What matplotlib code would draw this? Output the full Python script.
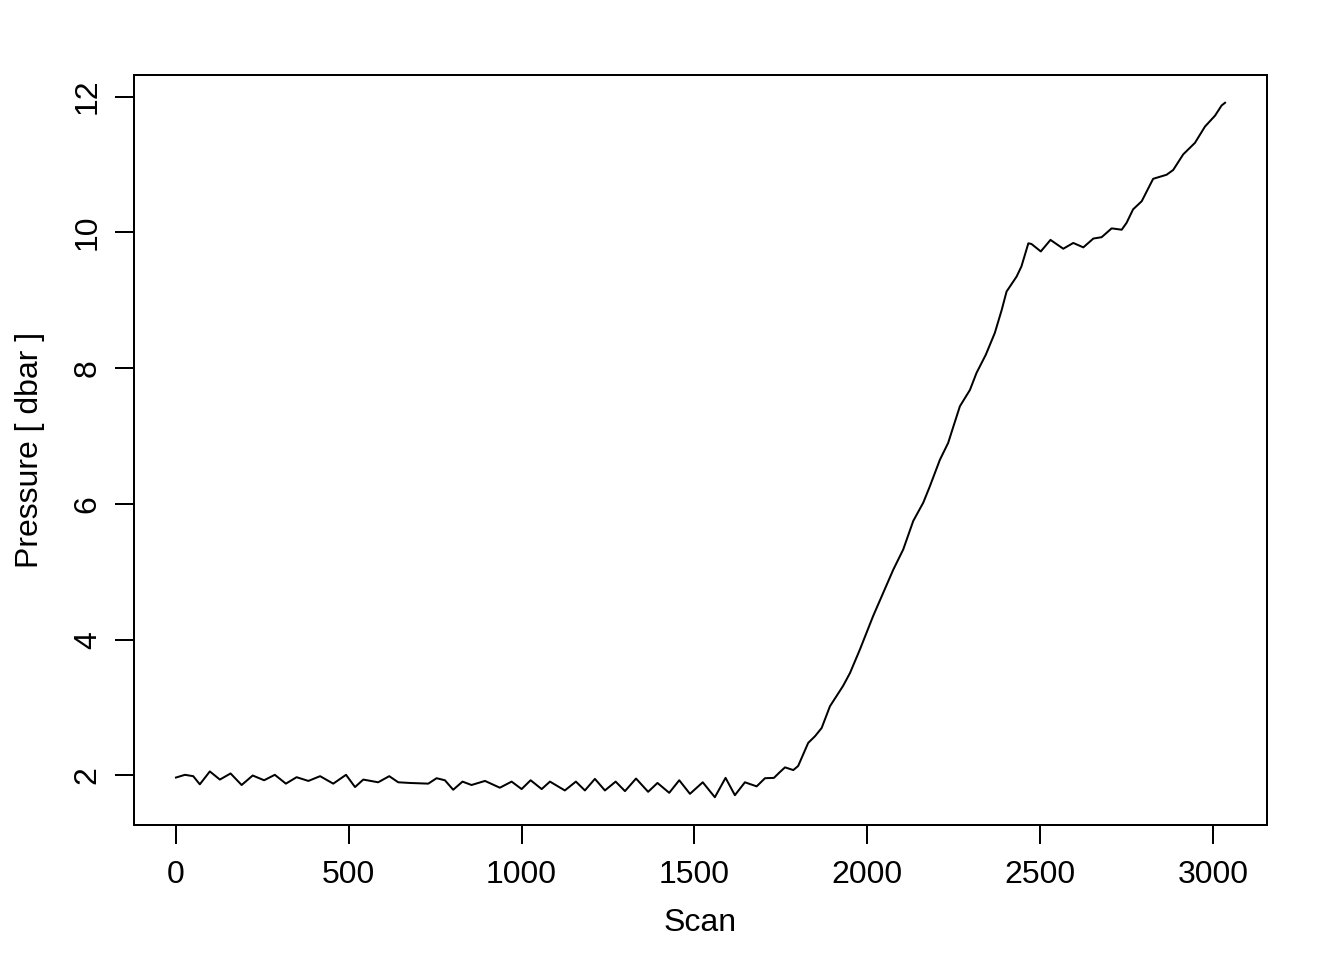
import matplotlib
matplotlib.use('Agg')
import matplotlib.pyplot as plt

plt.rcParams['font.family'] = ['Liberation Sans', 'DejaVu Sans']
plt.rcParams['font.size'] = 12

###----------------------------------------------------------------------------
# values
scan = [0, 26, 50, 69, 98, 127, 158, 190, 222, 255, 286, 318, 349, 383, 417,
        455, 492, 518, 542, 585, 617, 643, 677, 730, 754, 778, 802, 829, 855,
        894, 937, 971, 1000, 1026, 1058, 1082, 1125, 1157, 1183, 1212, 1241,
        1272, 1299, 1331, 1366, 1393, 1427, 1456, 1487, 1524, 1559, 1590,
        1617, 1646, 1680, 1704, 1730, 1747, 1762, 1786, 1800, 1829, 1849,
        1868, 1892, 1930, 1950, 1979, 2017, 2075, 2104, 2133, 2162, 2181,
        2210, 2234, 2249, 2268, 2297, 2316, 2343, 2369, 2389, 2403, 2432,
        2446, 2466, 2475, 2502, 2530, 2567, 2596, 2625, 2654, 2678, 2707,
        2736, 2750, 2769, 2794, 2827, 2866, 2885, 2914, 2948, 2977, 3006,
        3025, 3035]
pressure = [1.97, 2.01, 1.99, 1.87, 2.06, 1.94, 2.03, 1.86, 2.00, 1.93, 2.01,
            1.88, 1.975, 1.92, 1.99, 1.88, 2.01, 1.83, 1.94, 1.90, 1.99, 1.90,
            1.89, 1.88, 1.96, 1.93, 1.79, 1.91, 1.86,
            1.92, 1.82, 1.91, 1.80, 1.93, 1.80, 1.91, 1.78, 1.91, 1.78, 1.95,
            1.78, 1.91, 1.77, 1.955, 1.76, 1.89, 1.745, 1.93, 1.73, 1.90,
            1.68, 1.965, 1.71, 1.90, 1.84, 1.96, 1.965, 2.05, 2.12, 2.08,
            2.14, 2.48, 2.58, 2.70, 3.02, 3.32, 3.51, 3.86, 4.35, 5.03, 5.33,
            5.75, 6.02, 6.26, 6.65, 6.90, 7.14, 7.44, 7.68, 7.93, 8.20, 8.52,
            8.86, 9.13, 9.35, 9.50, 9.84, 9.83, 9.72, 9.89, 9.76, 9.845, 9.78,
            9.91, 9.93, 10.06, 10.04, 10.14, 10.34, 10.46, 10.79, 10.85,
            10.92, 11.15, 11.32, 11.56, 11.72, 11.87, 11.91]
xticks = [0, 500, 1000, 1500, 2000, 2500, 3000]
yticks = [2, 4, 6, 8, 10, 12]

###----------------------------------------------------------------------------
fig = plt.figure(figsize=(7, 5), dpi=192)
ax = fig.add_axes([134/1344, 1-825/960, (1267-134)/1344, (825-75)/960])

ax.plot(scan, pressure, '-', color='black', linewidth=0.75,
        solid_joinstyle='round')

# R style 4% padding
xr = max(scan) - min(scan)
yr = max(pressure) - min(pressure)
ax.set_xlim(min(scan) - 0.04*xr, max(scan) + 0.04*xr)
ax.set_ylim(min(pressure) - 0.04*yr, max(pressure) + 0.04*yr)

ax.set_xticks(xticks)
ax.set_yticks(yticks)
ax.set_yticklabels([str(v) for v in yticks], rotation=90, va='center')
ax.tick_params(direction='out', length=7.2, width=0.75, pad=6)
ax.tick_params(axis='y', pad=4.5)
for s in ax.spines.values():
    s.set_linewidth(0.75)

ax.set_xlabel('Scan')
ax.set_ylabel('Pressure [ dbar ]')
ax.xaxis.set_label_coords(0.5, -0.1107)
ax.yaxis.set_label_coords(-0.0785, 0.5)

fig.savefig('out.png', dpi=192)
